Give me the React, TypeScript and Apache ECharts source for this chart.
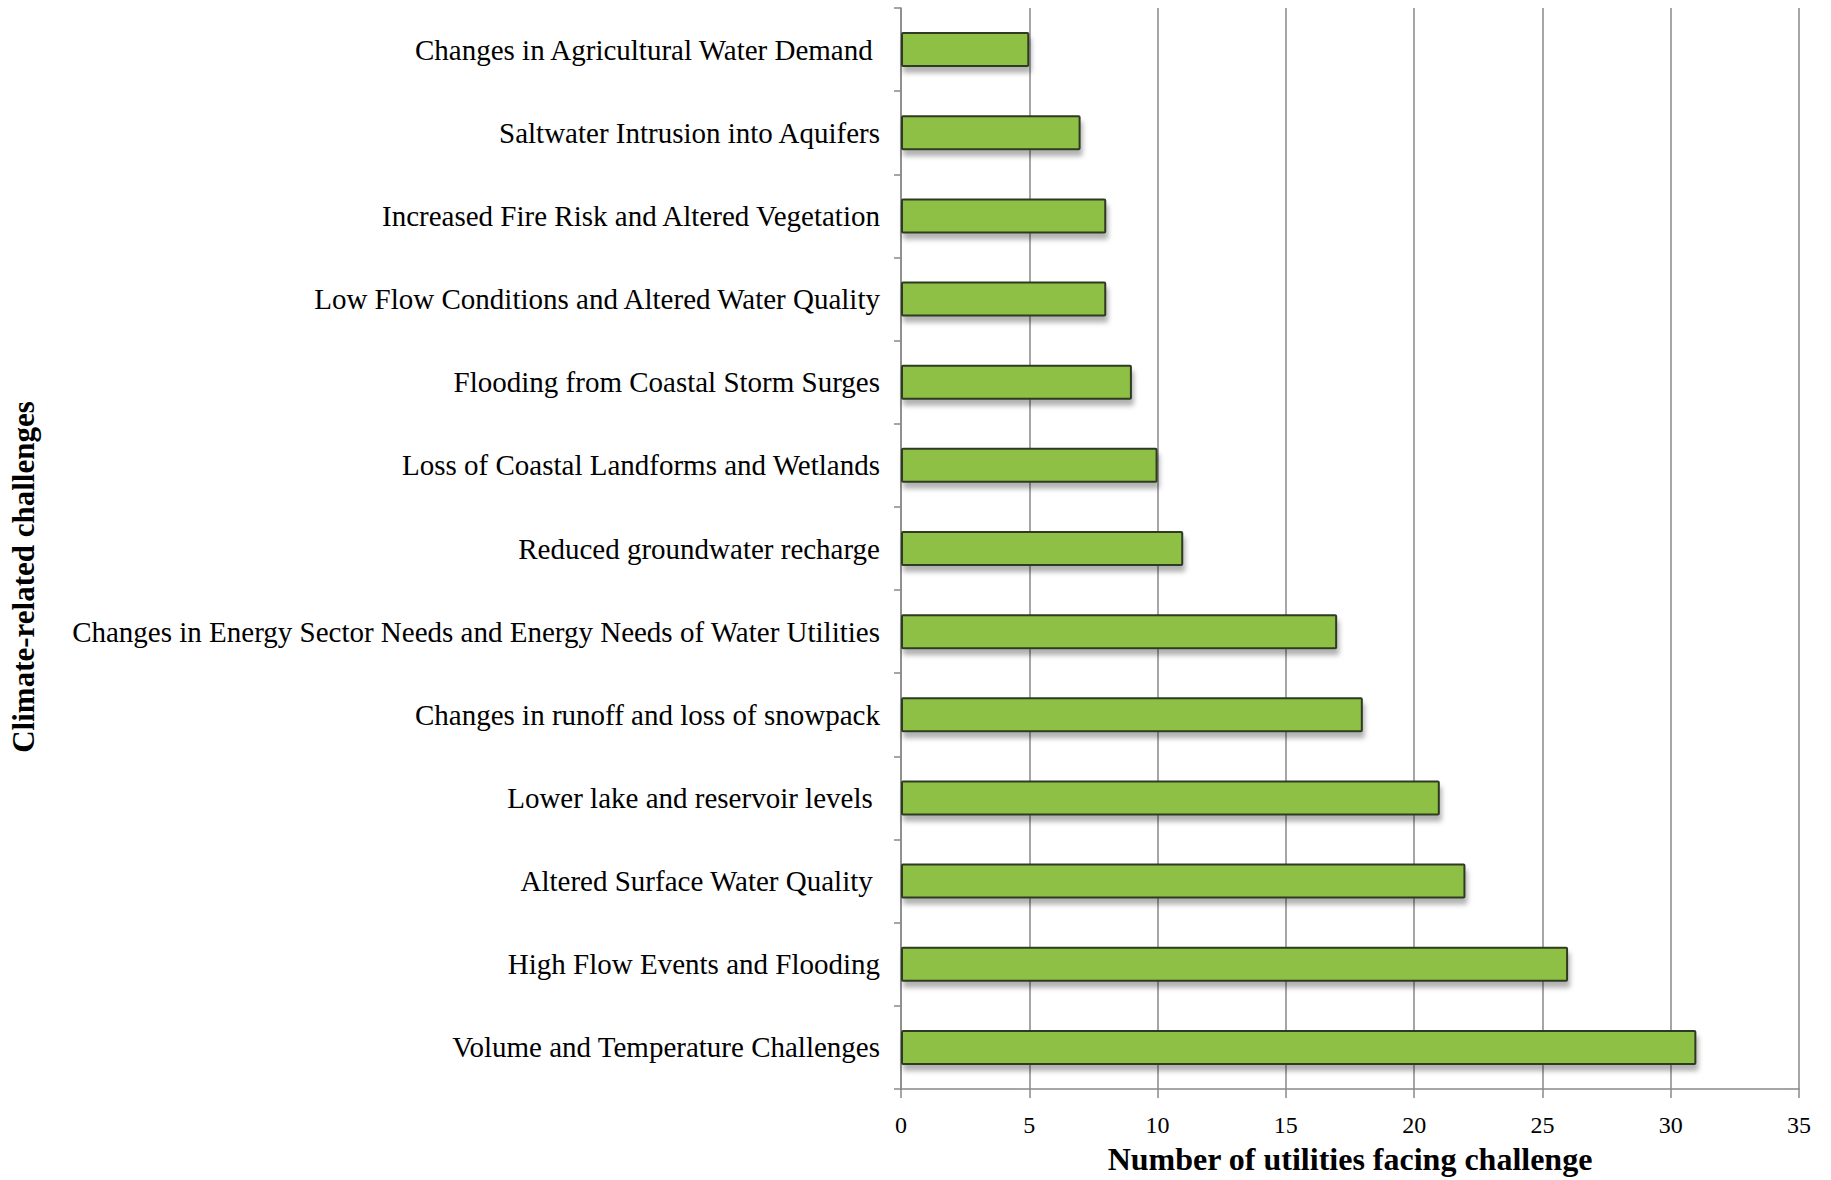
import React, { useEffect, useRef } from "react";
import * as echarts from "echarts";

const categories = [
  "Changes in Agricultural Water Demand ",
  "Saltwater Intrusion into Aquifers",
  "Increased Fire Risk and Altered Vegetation",
  "Low Flow Conditions and Altered Water Quality",
  "Flooding from Coastal Storm Surges",
  "Loss of Coastal Landforms and Wetlands",
  "Reduced groundwater recharge",
  "Changes in Energy Sector Needs and Energy Needs of Water Utilities",
  "Changes in runoff and loss of snowpack",
  "Lower lake and reservoir levels ",
  "Altered Surface Water Quality ",
  "High Flow Events and Flooding",
  "Volume and Temperature Challenges",
];
const values = [5, 7, 8, 8, 9, 10, 11, 17, 18, 21, 22, 26, 31];
const xTitle = "Number of utilities facing challenge";
const yTitle = "Climate-related challenges";

const FONT = "'Liberation Serif', serif";

export default function App() {
  const ref = useRef<HTMLDivElement>(null);
  useEffect(() => {
    if (!ref.current) return;
    const chart = echarts.init(ref.current, undefined, { renderer: "svg" });
    chart.setOption({
      animation: false,
      backgroundColor: "#ffffff",
      grid: { left: 901, right: 32, top: 8, bottom: 80, containLabel: false },
      xAxis: {
        type: "value",
        min: 0,
        max: 35,
        interval: 5,
        name: xTitle,
        nameLocation: "middle",
        nameGap: 54,
        nameTextStyle: { fontFamily: FONT, fontSize: 32, fontWeight: "bold", color: "#000" },
        axisLine: { show: true, lineStyle: { color: "#888", width: 1.5 } },
        axisTick: { show: true, length: 9, lineStyle: { color: "#888", width: 1.5 } },
        axisLabel: { fontFamily: FONT, fontSize: 24, color: "#000", margin: 24 },
        splitLine: { show: true, lineStyle: { color: "#888", width: 1.5 } },
      },
      yAxis: {
        type: "category",
        inverse: true,
        data: categories,
        axisLine: { show: true, lineStyle: { color: "#888", width: 1.5 } },
        axisTick: { show: true, length: 7, lineStyle: { color: "#888", width: 1.5 } },
        axisLabel: { fontFamily: FONT, fontSize: 29, color: "#000", margin: 21 },
        splitLine: { show: false },
      },
      graphic: [
        {
          type: "text",
          x: 23,
          y: 577,
          rotation: Math.PI / 2,
          style: {
            text: yTitle,
            fontFamily: FONT,
            fontSize: 31,
            fontWeight: "bold",
            fill: "#000",
            align: "center",
            verticalAlign: "middle",
          },
        },
      ],
      series: [
        {
          type: "bar",
          data: values,
          barWidth: 35,
          itemStyle: {
            color: "#8dc044",
            borderColor: "#2e3a22",
            borderWidth: 2,
            borderRadius: 1,
            shadowColor: "rgba(0,0,0,0.3)",
            shadowBlur: 5,
            shadowOffsetX: 2,
            shadowOffsetY: 6,
          },
        },
      ],
    });
    return () => chart.dispose();
  }, []);
  return (
    <div
      ref={ref}
      style={{ position: "absolute", left: 0, top: 0, width: 1831, height: 1180 }}
    />
  );
}
